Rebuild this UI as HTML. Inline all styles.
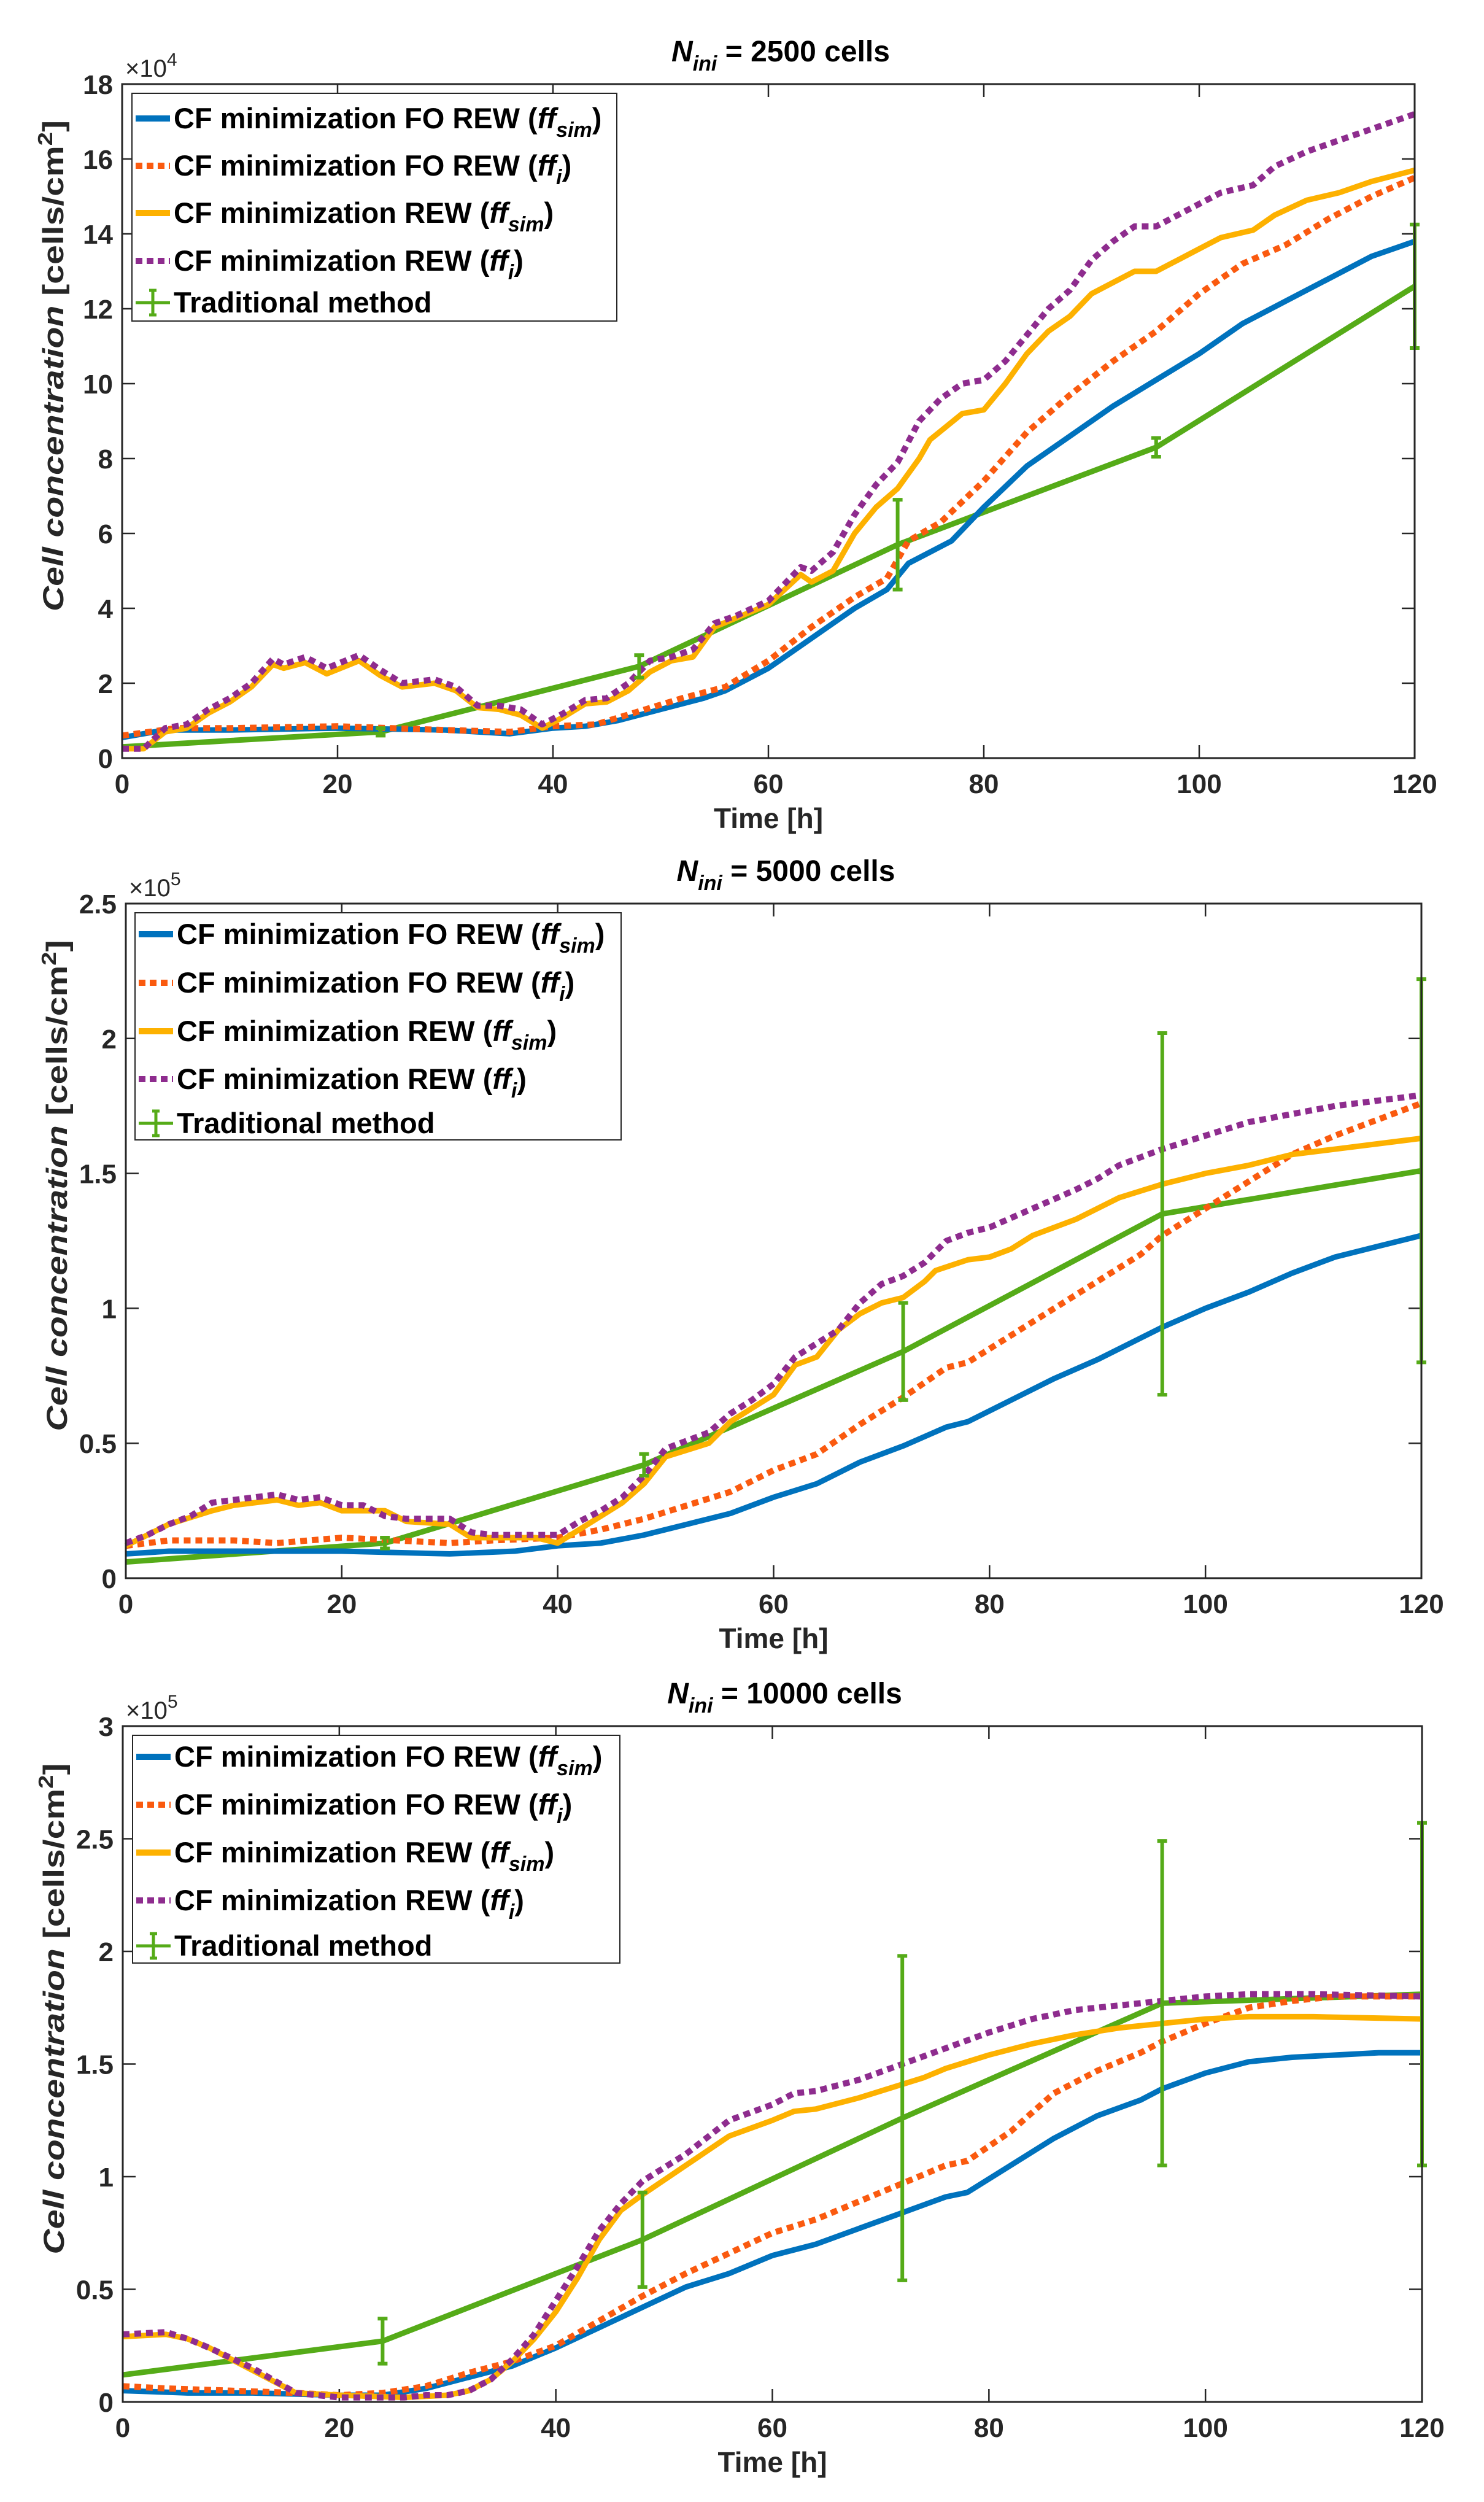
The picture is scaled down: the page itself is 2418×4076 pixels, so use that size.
<!DOCTYPE html>
<html><head><meta charset="utf-8"><style>
html,body{margin:0;padding:0;background:#fff;}
svg{display:block;font-family:"Liberation Sans",Arial,sans-serif;font-weight:bold;}
</style></head><body>
<svg id="fig" width="2418" height="4076" viewBox="0 0 2418 4076" xmlns="http://www.w3.org/2000/svg"></svg>
<script>
// ---------- Data: panel 1 (Nini = 2500, x1e4) ----------
const p1BlueT=[0,4,10,20,30,36,40,43,46,50,54,56,60,64,68,71,73,75,77,80,84,88,92,96,100,104,108,112,116,120];
const p1BlueV=[0.55,0.75,0.75,0.8,0.75,0.65,0.8,0.85,1.0,1.3,1.6,1.8,2.4,3.2,4.0,4.5,5.2,5.5,5.8,6.7,7.8,8.6,9.4,10.1,10.8,11.6,12.2,12.8,13.4,13.8];
const p1RedT=[0,5,10,20,30,36,40,44,48,52,56,60,64,68,71,73,76,80,84,88,92,96,100,104,108,112,116,120];
const p1RedV=[0.6,0.8,0.8,0.85,0.75,0.7,0.85,0.9,1.25,1.6,1.9,2.6,3.5,4.3,4.8,5.8,6.3,7.4,8.7,9.7,10.6,11.4,12.4,13.2,13.7,14.4,15.0,15.5];
const p1OrangeT=[0,2,4,6,8,10,12,14,15,17,19,22,24,26,29,31,33,35,37,39,41,43,45,47,49,51,53,55,60,63,64,66,68,70,72,74,75,78,80,82,84,86,88,90,92,94,96,98,100,102,105,107,110,113,116,120];
const p1OrangeV=[0.25,0.25,0.7,0.8,1.2,1.5,1.9,2.5,2.4,2.55,2.25,2.6,2.2,1.9,2.0,1.8,1.35,1.3,1.15,0.8,1.1,1.45,1.5,1.8,2.3,2.6,2.7,3.5,4.1,4.9,4.7,5.0,6.0,6.7,7.2,8.0,8.5,9.2,9.3,10.0,10.8,11.4,11.8,12.4,12.7,13.0,13.0,13.3,13.6,13.9,14.1,14.5,14.9,15.1,15.4,15.7];
const p1PurpleT=[0,2,4,6,8,10,12,14,15,17,19,22,24,26,29,31,33,35,37,39,41,43,45,47,49,51,53,55,57,60,63,64,66,68,70,72,74,76,78,80,82,84,86,88,90,92,94,96,98,100,102,105,107,110,113,116,120];
const p1PurpleV=[0.25,0.25,0.8,0.9,1.3,1.6,2.0,2.65,2.5,2.7,2.4,2.75,2.35,2.0,2.1,1.9,1.4,1.4,1.3,0.9,1.2,1.55,1.6,2.0,2.6,2.7,2.9,3.6,3.8,4.2,5.1,5.0,5.5,6.5,7.3,7.9,9.0,9.6,10.0,10.1,10.6,11.3,12.0,12.5,13.3,13.8,14.2,14.2,14.5,14.8,15.1,15.3,15.8,16.2,16.5,16.8,17.2];
const p1TradT=[0,24,48,72,96,120];
const p1TradV=[0.3,0.7,2.45,5.7,8.3,12.6];
const p1TradErr=[0,0.1,0.3,1.2,0.25,1.65];
const p1YTicks=[0,2,4,6,8,10,12,14,16,18];
// ---------- Data: panel 2 (Nini = 5000, x1e5) ----------
const p2BlueT=[0,4,20,30,36,40,44,48,52,56,60,64,68,72,76,78,82,86,90,94,96,100,104,108,112,116,120];
const p2BlueV=[0.09,0.1,0.1,0.09,0.1,0.12,0.13,0.16,0.2,0.24,0.3,0.35,0.43,0.49,0.56,0.58,0.66,0.74,0.81,0.89,0.93,1.0,1.06,1.13,1.19,1.23,1.27];
const p2RedT=[0,4,10,14,20,30,34,40,44,48,52,56,60,64,68,72,76,78,82,86,90,94,96,100,104,108,112,116,120];
const p2RedV=[0.12,0.14,0.14,0.13,0.15,0.13,0.14,0.15,0.18,0.22,0.27,0.32,0.4,0.46,0.57,0.67,0.78,0.8,0.9,1.0,1.1,1.2,1.27,1.37,1.47,1.57,1.64,1.7,1.76];
const p2OrangeT=[0,4,8,10,14,16,18,20,24,26,30,32,38,40,44,46,48,50,54,56,60,62,64,66,68,70,72,74,75,78,80,82,84,88,90,92,96,100,104,108,112,116,120];
const p2OrangeV=[0.12,0.2,0.25,0.27,0.29,0.27,0.28,0.25,0.25,0.21,0.2,0.15,0.15,0.13,0.23,0.28,0.35,0.45,0.5,0.58,0.68,0.79,0.82,0.92,0.98,1.02,1.04,1.1,1.14,1.18,1.19,1.22,1.27,1.33,1.37,1.41,1.46,1.5,1.53,1.57,1.59,1.61,1.63];
const p2PurpleT=[0,2,4,6,8,10,14,16,18,20,22,24,26,30,32,34,38,40,42,44,46,48,50,54,56,58,60,62,64,66,68,70,72,74,76,78,80,84,88,90,92,96,100,104,108,112,116,120];
const p2PurpleV=[0.13,0.16,0.2,0.23,0.28,0.29,0.31,0.29,0.3,0.27,0.27,0.23,0.22,0.22,0.17,0.16,0.16,0.16,0.21,0.25,0.3,0.38,0.48,0.54,0.61,0.66,0.72,0.82,0.87,0.92,1.02,1.09,1.12,1.17,1.25,1.28,1.3,1.37,1.44,1.48,1.53,1.59,1.64,1.69,1.72,1.75,1.77,1.79];
const p2TradT=[0,24,48,72,96,120];
const p2TradV=[0.06,0.13,0.42,0.84,1.35,1.51];
const p2TradErr=[0,0.02,0.04,0.18,0.67,0.71];
const p2YTicks=[0,0.5,1,1.5,2,2.5];
// ---------- Data: panel 3 (Nini = 10000, x1e5) ----------
const p3BlueT=[0,6,12,20,24,28,32,36,40,44,48,52,56,60,64,68,72,76,78,82,86,90,94,96,100,104,108,112,116,120];
const p3BlueV=[0.05,0.04,0.04,0.03,0.03,0.06,0.11,0.16,0.24,0.33,0.42,0.51,0.57,0.65,0.7,0.77,0.84,0.91,0.93,1.05,1.17,1.27,1.34,1.39,1.46,1.51,1.53,1.54,1.55,1.55];
const p3RedT=[0,4,10,16,20,24,28,32,36,40,44,48,52,56,60,64,68,72,76,78,82,86,90,94,96,100,104,108,112,120];
const p3RedV=[0.07,0.06,0.05,0.04,0.03,0.04,0.07,0.13,0.18,0.25,0.36,0.47,0.57,0.66,0.75,0.81,0.89,0.97,1.05,1.07,1.2,1.37,1.47,1.55,1.6,1.68,1.75,1.78,1.8,1.8];
const p3OrangeT=[0,4,6,8,12,16,20,26,30,32,34,36,38,40,42,44,46,48,52,56,60,62,64,68,72,74,76,80,84,88,92,96,100,104,110,120];
const p3OrangeV=[0.29,0.3,0.28,0.24,0.14,0.04,0.03,0.02,0.03,0.05,0.1,0.18,0.28,0.4,0.55,0.72,0.85,0.92,1.05,1.18,1.25,1.29,1.3,1.35,1.41,1.44,1.48,1.54,1.59,1.63,1.66,1.68,1.7,1.71,1.71,1.7];
const p3PurpleT=[0,4,6,8,12,16,20,26,28,30,32,34,36,38,40,42,44,46,48,52,56,60,62,64,68,72,76,80,84,88,92,96,100,104,110,120];
const p3PurpleV=[0.3,0.31,0.28,0.24,0.15,0.04,0.02,0.02,0.03,0.03,0.05,0.1,0.19,0.3,0.45,0.6,0.76,0.88,0.98,1.1,1.25,1.32,1.37,1.38,1.43,1.5,1.57,1.64,1.7,1.74,1.76,1.78,1.8,1.81,1.81,1.8];
const p3TradT=[0,24,48,72,96,120];
const p3TradV=[0.12,0.27,0.72,1.26,1.77,1.81];
const p3TradErr=[0,0.1,0.21,0.72,0.72,0.76];
const p3YTicks=[0,0.5,1,1.5,2,2.5,3];
const xTicks=[0,20,40,60,80,100,120];
const yTickLabels1=["0","2","4","6","8","10","12","14","16","18"];
const yTickLabels2=["0","0.5","1","1.5","2","2.5"];
const yTickLabels3=["0","0.5","1","1.5","2","2.5","3"];
const titles=["2500","5000","10000"];
const exps=["4","5","5"];

const NS="http://www.w3.org/2000/svg";
const svg=document.getElementById('fig');
function mk(tag,attrs,parent){const e=document.createElementNS(NS,tag);for(const k in attrs)e.setAttribute(k,attrs[k]);(parent||svg).appendChild(e);return e;}
const C={blue:"#0072BD",red:"#FA5A0F",orange:"#FDB100",purple:"#8E2C8E",green:"#55AB18",axis:"#262626"};

function panel(idx,box,ymax,yTicks,yLabels,series,trad,legendBox){
  const g=mk('g',{});
  
  
  const L=box[0],R=box[1],T=box[2],B=box[3];
  const sx=t=>L+(t/120)*(R-L);
  const sy=v=>B-(v/ymax)*(B-T);
  const title=mk('text',{x:(L+R)/2+20,y:T-37,'text-anchor':'middle','font-size':48,fill:'#000'},g);
  
  
  const t1=mk('tspan',{'font-style':'italic'},title);t1.textContent='N';
  const t2=mk('tspan',{'font-style':'italic','font-size':34,dy:15},title);t2.textContent='ini';
  const t3=mk('tspan',{dy:-15},title);t3.textContent=' = '+titles[idx]+' cells';
  const ex=mk('text',{x:L+5,y:T-12,'font-size':40,'font-weight':'normal',fill:'#262626'},g);
  
  
  const e1=mk('tspan',{},ex);e1.textContent='×10';
  const e2=mk('tspan',{dy:-18,'font-size':30},ex);e2.textContent=exps[idx];
  xTicks.forEach(t=>{
    const x=sx(t);
    mk('line',{x1:x,y1:B,x2:x,y2:B-21,stroke:C.axis,'stroke-width':2.5},g);
    mk('line',{x1:x,y1:T,x2:x,y2:T+21,stroke:C.axis,'stroke-width':2.5},g);
    const tl=mk('text',{x:x,y:B+57,'text-anchor':'middle','font-size':44,fill:'#262626'},g);
    
    
    tl.textContent=String(t);
  });
  yTicks.forEach((v,i)=>{
    const y=sy(v);
    mk('line',{x1:L,y1:y,x2:L+21,y2:y,stroke:C.axis,'stroke-width':2.5},g);
    mk('line',{x1:R,y1:y,x2:R-21,y2:y,stroke:C.axis,'stroke-width':2.5},g);
    const tl=mk('text',{x:L-15,y:y+16,'text-anchor':'end','font-size':44,fill:'#262626'},g);
    
    
    tl.textContent=yLabels[i];
  });
  const xl=mk('text',{x:(L+R)/2,y:B+114,'text-anchor':'middle','font-size':46,fill:'#262626'},g);
  
  
  xl.textContent='Time [h]';
  const cy=(T+B)/2-90;
  const yl=mk('text',{x:0,y:0,'text-anchor':'middle','font-size':47,fill:'#262626',textLength:800,lengthAdjust:'spacingAndGlyphs',transform:`translate(${L-96},${cy}) rotate(-90)`},g);
  
  
  const y1=mk('tspan',{'font-style':'italic'},yl);y1.textContent='Cell concentration ';
  const y2=mk('tspan',{},yl);y2.textContent='[cells/cm';
  const y3=mk('tspan',{dy:-18,'font-size':33},yl);y3.textContent='2';
  const y4=mk('tspan',{dy:18},yl);y4.textContent=']';
  const cid='clip'+idx;
  const cp=mk('clipPath',{id:cid},g);mk('rect',{x:L-15,y:T,width:R-L+30,height:B-T},cp);
  const sg=mk('g',{'clip-path':`url(#${cid})`},g);
  const tp=trad.t.map((t,i)=>sx(t)+','+sy(trad.v[i])).join(' ');
  const tl=mk('polyline',{points:tp,fill:'none',stroke:C.green,'stroke-width':9},sg);
  
  
  trad.t.forEach((t,i)=>{
    if(trad.e[i]<=0)return;
    const x=sx(t),ya=sy(trad.v[i]-trad.e[i]),yb=sy(trad.v[i]+trad.e[i]);
    const eb=mk('path',{d:`M${x},${ya}V${yb}M${x-8},${ya}H${x+8}M${x-8},${yb}H${x+8}`,stroke:C.green,'stroke-width':6,fill:'none'},g);
    
    
  });
  series.forEach(s=>{
    const pts=s.t.map((t,i)=>sx(t)+','+sy(s.v[i])).join(' ');
    const a={points:pts,fill:'none',stroke:s.c,'stroke-width':s.dot?10:9,'stroke-linejoin':'round'};
    if(s.dot)a['stroke-dasharray']='11 8';
    const pl=mk('polyline',a,sg);
    
    
  });
  mk('rect',{x:L,y:T,width:R-L,height:B-T,fill:'none',stroke:C.axis,'stroke-width':3},g);
  const [lx,ly,lr,lb,rows]=legendBox;
  const lg=mk('g',{},g);
  
  
  mk('rect',{x:lx,y:ly,width:lr-lx,height:lb-ly,fill:'#fff',stroke:C.axis,'stroke-width':2},lg);
  const entries=[["CF minimization FO REW (","sim",C.blue,false],["CF minimization FO REW (","i",C.red,true],["CF minimization REW (","sim",C.orange,false],["CF minimization REW (","i",C.purple,true]];
  entries.forEach((en,i)=>{
    const y=rows[i];
    const la={x1:lx+6,y1:y,x2:lx+62,y2:y,stroke:en[2],'stroke-width':10};
    if(en[3])la['stroke-dasharray']='11 7';
    mk('line',la,lg);
    const tx=mk('text',{x:lx+68,y:y+16,'font-size':47,fill:'#000'},lg);
    
    
    const a=mk('tspan',{},tx);a.textContent=en[0];
    const b=mk('tspan',{'font-style':'italic'},tx);b.textContent='ff';
    const c=mk('tspan',{'font-style':'italic','font-size':34,dy:14},tx);c.textContent=en[1];
    const d=mk('tspan',{dy:-14},tx);d.textContent=')';
  });
  const y=rows[4];
  mk('path',{d:`M${lx+6},${y}H${lx+62}M${lx+34},${y-20}V${y+20}M${lx+28},${y-20}H${lx+40}M${lx+28},${y+20}H${lx+40}`,stroke:C.green,'stroke-width':5,fill:'none'},lg);
  const tx=mk('text',{x:lx+68,y:y+16,'font-size':47,fill:'#000'},lg);
  
  
  tx.textContent='Traditional method';
}

panel(0,[199,2305,137,1235],18,p1YTicks,yTickLabels1,
 [{t:p1BlueT,v:p1BlueV,c:C.blue,name:'line-fo-rew-ffsim'},{t:p1RedT,v:p1RedV,c:C.red,dot:true,name:'line-fo-rew-ffi'},{t:p1OrangeT,v:p1OrangeV,c:C.orange,name:'line-rew-ffsim'},{t:p1PurpleT,v:p1PurpleV,c:C.purple,dot:true,name:'line-rew-ffi'}],
 {t:p1TradT,v:p1TradV,e:p1TradErr},[215,152,1005,523,[193,270,347,425,493]]);
panel(1,[205,2316,1472,2571],2.5,p2YTicks,yTickLabels2,
 [{t:p2BlueT,v:p2BlueV,c:C.blue,name:'line-fo-rew-ffsim'},{t:p2RedT,v:p2RedV,c:C.red,dot:true,name:'line-fo-rew-ffi'},{t:p2OrangeT,v:p2OrangeV,c:C.orange,name:'line-rew-ffsim'},{t:p2PurpleT,v:p2PurpleV,c:C.purple,dot:true,name:'line-rew-ffi'}],
 {t:p2TradT,v:p2TradV,e:p2TradErr},[220,1487,1012,1857,[1522,1601,1680,1758,1830]]);
panel(2,[200,2317,2812,3913],3,p3YTicks,yTickLabels3,
 [{t:p3BlueT,v:p3BlueV,c:C.blue,name:'line-fo-rew-ffsim'},{t:p3RedT,v:p3RedV,c:C.red,dot:true,name:'line-fo-rew-ffi'},{t:p3OrangeT,v:p3OrangeV,c:C.orange,name:'line-rew-ffsim'},{t:p3PurpleT,v:p3PurpleV,c:C.purple,dot:true,name:'line-rew-ffi'}],
 {t:p3TradT,v:p3TradV,e:p3TradErr},[216,2827,1010,3198,[2862,2940,3018,3096,3170]]);
</script>
</body></html>
